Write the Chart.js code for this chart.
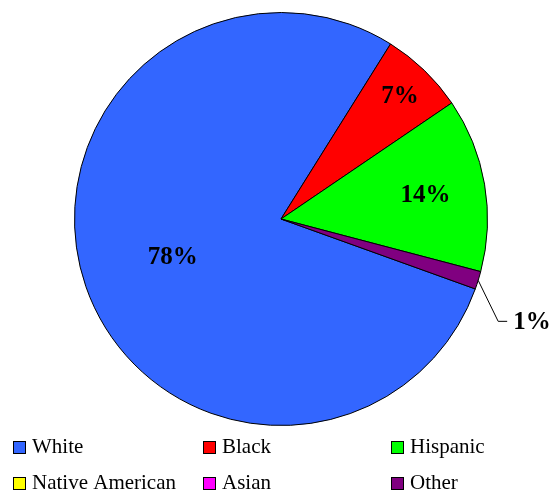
<!DOCTYPE html>
<html lang="en">
<head>
<meta charset="UTF-8">
<title>Pie chart</title>
<script src="https://cdn.jsdelivr.net/npm/chart.js"></script>
<style>
    body { margin: 0; background: #fff; }
    #wrap { position: relative; width: 556px; height: 493px; }
</style>
</head>
<body>
<div id="wrap"><canvas id="pie"></canvas></div>
<script>
    const categories = ['White', 'Black', 'Hispanic', 'Native American', 'Asian', 'Other'];
    const shares = [78.4, 6.6, 13.6, 0, 0, 1.4];
    const valueLabels = ['78%', '7%', '14%', '', '', '1%'];
    const colors = ['#3366ff', '#ff0000', '#00ff00', '#ffff00', '#ff00ff', '#800080'];

    // how far from the centre each label sits (fraction of radius), null = outside with a leader
    const labelRadius = [0.555, 0.83, 0.71, null, null, null];

    const FONT = '"Liberation Serif"';

    const labelPlugin = {
        id: 'sliceLabels',
        afterDatasetsDraw(chart) {
            const ctx = chart.ctx;
            const arcs = chart.getDatasetMeta(0).data;
            ctx.save();
            ctx.font = 'bold 25px ' + FONT;
            ctx.fillStyle = '#000';
            ctx.textBaseline = 'middle';
            arcs.forEach((arc, i) => {
                if (!valueLabels[i]) return;
                const mid = (arc.startAngle + arc.endAngle) / 2;
                const r = arc.outerRadius;
                if (labelRadius[i] !== null) {
                    ctx.textAlign = 'center';
                    ctx.fillText(valueLabels[i], arc.x + Math.cos(mid) * r * labelRadius[i],
                        arc.y + Math.sin(mid) * r * labelRadius[i] + 1);
                } else {
                    const sx = arc.x + Math.cos(mid) * r;
                    const sy = arc.y + Math.sin(mid) * r;
                    const ex = sx + 20, ey = sy + 41;
                    ctx.beginPath();
                    ctx.strokeStyle = '#000';
                    ctx.lineWidth = 1;
                    ctx.moveTo(sx, sy);
                    ctx.lineTo(ex, ey);
                    ctx.lineTo(ex + 9, ey);
                    ctx.stroke();
                    ctx.textAlign = 'left';
                    ctx.fillText(valueLabels[i], ex + 15, ey + 1);
                }
            });
            ctx.restore();
        }
    };

    const legendPlugin = {
        id: 'gridLegend',
        afterDraw(chart) {
            const ctx = chart.ctx;
            const colX = [13, 203, 391];
            const rowY = [441, 477];
            ctx.save();
            ctx.font = '21px ' + FONT;
            ctx.textAlign = 'left';
            ctx.textBaseline = 'alphabetic';
            categories.forEach((name, i) => {
                const x = colX[i % 3], y = rowY[Math.floor(i / 3)];
                ctx.fillStyle = colors[i];
                ctx.fillRect(x, y, 12, 12);
                ctx.strokeStyle = '#000';
                ctx.lineWidth = 1;
                ctx.strokeRect(x + 0.5, y + 0.5, 12, 12);
                ctx.fillStyle = '#000';
                ctx.fillText(name, x + 19, y + 12);
            });
            ctx.restore();
        }
    };

    new Chart(document.getElementById('pie'), {
        type: 'pie',
        data: {
            labels: categories,
            datasets: [{
                data: shares,
                backgroundColor: colors,
                borderColor: '#000',
                borderWidth: 1
            }]
        },
        options: {
            responsive: true,
            maintainAspectRatio: false,
            animation: false,
            rotation: 109.8,
            layout: { padding: { top: 12, bottom: 67, left: 74, right: 68 } },
            plugins: {
                legend: { display: false },
                tooltip: { enabled: false }
            }
        },
        plugins: [labelPlugin, legendPlugin]
    });
</script>
</body>
</html>
